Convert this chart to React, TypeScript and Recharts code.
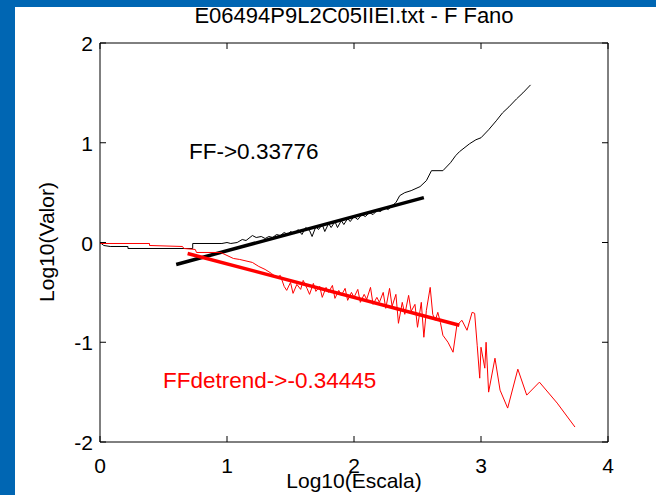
import React from 'react';
import { LineChart, Line, XAxis, YAxis } from 'recharts';

const xTicks = [0, 1, 2, 3, 4];
const yTicks = [-2, -1, 0, 1, 2];

const ffX = [0, 0.03, 0.08, 0.22, 0.22, 0.73, 0.73, 0.96, 1.0, 1.03, 1.08, 1.12, 1.15, 1.2, 1.23, 1.27, 1.3, 1.33, 1.36, 1.39, 1.42, 1.45, 1.48, 1.5, 1.53, 1.56, 1.59, 1.62, 1.65, 1.67, 1.7, 1.72, 1.75, 1.77, 1.8, 1.82, 1.85, 1.87, 1.9, 1.92, 1.95, 1.97, 2.0, 2.03, 2.06, 2.09, 2.12, 2.15, 2.18, 2.21, 2.24, 2.27, 2.3, 2.33, 2.36, 2.4, 2.45, 2.52, 2.57, 2.61, 2.7, 2.76, 2.8, 2.83, 2.91, 2.96, 3.0, 3.06, 3.12, 3.17, 3.22, 3.28, 3.33, 3.39];
const ffY = [0, -0.03, -0.04, -0.04, -0.06, -0.06, -0.01, -0.01, 0.0, -0.01, 0.0, 0.03, 0.02, 0.07, 0.05, 0.06, 0.04, 0.06, 0.05, 0.08, 0.07, 0.1, 0.08, 0.11, 0.09, 0.13, 0.08, 0.15, 0.12, 0.06, 0.16, 0.13, 0.18, 0.11, 0.19, 0.15, 0.21, 0.15, 0.22, 0.18, 0.24, 0.21, 0.26, 0.23, 0.28, 0.26, 0.3, 0.28, 0.32, 0.31, 0.35, 0.33, 0.37, 0.4, 0.47, 0.5, 0.52, 0.56, 0.62, 0.72, 0.72, 0.8, 0.87, 0.91, 0.99, 1.03, 1.05, 1.13, 1.22, 1.3, 1.36, 1.44, 1.5, 1.58];

const ffFitX = [0.6, 2.55];
const ffFitY = [-0.22, 0.45];

const fdX = [0, 0.39, 0.39, 0.65, 0.66, 0.75, 0.76, 0.95, 1.0, 1.05, 1.1, 1.2, 1.25, 1.3, 1.35, 1.39, 1.42, 1.45, 1.47, 1.5, 1.52, 1.55, 1.58, 1.6, 1.63, 1.65, 1.68, 1.7, 1.73, 1.75, 1.78, 1.8, 1.83, 1.85, 1.88, 1.9, 1.93, 1.95, 1.98, 2.0, 2.03, 2.05, 2.08, 2.1, 2.13, 2.15, 2.18, 2.2, 2.23, 2.25, 2.28, 2.3, 2.33, 2.35, 2.38, 2.4, 2.43, 2.45, 2.48, 2.5, 2.53, 2.55, 2.57, 2.6, 2.62, 2.64, 2.66, 2.68, 2.7, 2.74, 2.78, 2.81, 2.85, 2.89, 2.93, 2.95, 2.97, 2.99, 3.0, 3.03, 3.04, 3.06, 3.11, 3.15, 3.21, 3.29, 3.36, 3.46, 3.6, 3.74];
const fdY = [-0.01, -0.01, -0.03, -0.04, -0.06, -0.07, -0.1, -0.1, -0.13, -0.16, -0.17, -0.2, -0.24, -0.27, -0.31, -0.35, -0.33, -0.44, -0.48, -0.4, -0.51, -0.42, -0.47, -0.38, -0.46, -0.52, -0.41, -0.49, -0.44, -0.55, -0.45, -0.5, -0.43, -0.56, -0.48, -0.53, -0.46, -0.58, -0.5, -0.55, -0.47, -0.6, -0.52, -0.57, -0.45, -0.62, -0.55, -0.6, -0.5, -0.66, -0.46, -0.64, -0.52, -0.81, -0.6, -0.72, -0.53, -0.69, -0.62, -0.85, -0.6, -0.95, -0.68, -0.45, -0.72, -0.78, -0.7, -0.8, -0.93, -1.0, -1.1, -0.83, -0.78, -0.88, -0.7, -0.71, -1.03, -1.36, -1.05, -1.26, -1.0, -1.5, -1.16, -1.48, -1.66, -1.27, -1.53, -1.4, -1.61, -1.85];

const fdFitX = [0.69, 2.83];
const fdFitY = [-0.11, -0.83];

const toRows = (xs: number[], ys: number[]) => xs.map((x, i) => ({ x, y: ys[i] }));

const ffData = toRows(ffX, ffY);
const ffFitData = toRows(ffFitX, ffFitY);
const fdData = toRows(fdX, fdY);
const fdFitData = toRows(fdFitX, fdFitY);

const FONT = '"Liberation Sans", Arial, sans-serif';

const BottomTick = (p: any) => (
  <g>
    <line x1={p.x} y1={p.y} x2={p.x} y2={p.y - 6} stroke="#000" />
    <text x={p.x} y={p.y + 31} textAnchor="middle" fontSize={21} fontFamily={FONT} fill="#000">
      {p.payload.value}
    </text>
  </g>
);
const TopTick = (p: any) => (
  <line x1={p.x} y1={p.y} x2={p.x} y2={p.y + 6} stroke="#000" />
);
const LeftTick = (p: any) => (
  <g>
    <line x1={p.x} y1={p.y} x2={p.x + 6} y2={p.y} stroke="#000" />
    <text x={p.x - 7} y={p.y + 8} textAnchor="end" fontSize={21} fontFamily={FONT} fill="#000">
      {p.payload.value}
    </text>
  </g>
);
const RightTick = (p: any) => (
  <line x1={p.x} y1={p.y} x2={p.x - 6} y2={p.y} stroke="#000" />
);

export default function App() {
  return (
    <div style={{ position: 'absolute', left: 0, top: 0, width: 656, height: 495, background: '#0066B3', overflow: 'hidden', fontFamily: FONT }}>
      <div style={{ position: 'absolute', left: 15, top: 7, width: 641, height: 488, background: '#fff' }} />
      <div style={{ position: 'absolute', left: 0, top: 0 }}>
        <LineChart width={656} height={495} data={ffData} margin={{ top: 33, right: 38, bottom: 23, left: 60 }}>
          <XAxis xAxisId={0} type="number" dataKey="x" domain={[0, 4]} ticks={xTicks} interval={0} height={30} tickSize={0} tickMargin={0} tick={BottomTick} axisLine={{ stroke: '#000' }} allowDataOverflow />
          <XAxis xAxisId="top" orientation="top" type="number" dataKey="x" domain={[0, 4]} ticks={xTicks} interval={0} height={10} tickSize={0} tickMargin={0} tick={TopTick} axisLine={{ stroke: '#000' }} allowDataOverflow />
          <YAxis yAxisId={0} type="number" domain={[-2, 2]} ticks={yTicks} interval={0} width={40} tickSize={0} tickMargin={0} tick={LeftTick} axisLine={{ stroke: '#000' }} allowDataOverflow />
          <YAxis yAxisId="right" orientation="right" type="number" domain={[-2, 2]} ticks={yTicks} interval={0} width={10} tickSize={0} tickMargin={0} tick={RightTick} axisLine={{ stroke: '#000' }} allowDataOverflow />
          <Line data={ffData} dataKey="y" type="linear" stroke="#000" strokeWidth={1} dot={false} isAnimationActive={false} />
          <Line data={ffFitData} dataKey="y" type="linear" stroke="#000" strokeWidth={3.5} dot={false} isAnimationActive={false} />
          <Line data={fdData} dataKey="y" type="linear" stroke="#FF0000" strokeWidth={1} dot={false} isAnimationActive={false} />
          <Line data={fdFitData} dataKey="y" type="linear" stroke="#FF0000" strokeWidth={3.5} dot={false} isAnimationActive={false} />
        </LineChart>
      </div>
      <div style={{ position: 'absolute', left: 0, width: 708, top: 3, textAlign: 'center', fontSize: 22, color: '#000', whiteSpace: 'nowrap' }}>
        E06494P9L2C05IIEI.txt - F Fano
      </div>
      <div style={{ position: 'absolute', left: 0, width: 708, top: 469, textAlign: 'center', fontSize: 21, color: '#000', whiteSpace: 'nowrap' }}>
        Log10(Escala)
      </div>
      <div style={{ position: 'absolute', left: 47, top: 243, width: 0, height: 0 }}>
        <div style={{ position: 'absolute', left: -100, top: -13, width: 200, textAlign: 'center', transform: 'rotate(-90deg)', fontSize: 21, color: '#000', whiteSpace: 'nowrap' }}>
          Log10(Valor)
        </div>
      </div>
      <div style={{ position: 'absolute', left: 189, top: 139, fontSize: 22.5, color: '#000', whiteSpace: 'nowrap' }}>
        FF-&gt;0.33776
      </div>
      <div style={{ position: 'absolute', left: 163, top: 368, fontSize: 22.5, color: '#FF0000', whiteSpace: 'nowrap' }}>
        FFdetrend-&gt;-0.34445
      </div>
    </div>
  );
}
